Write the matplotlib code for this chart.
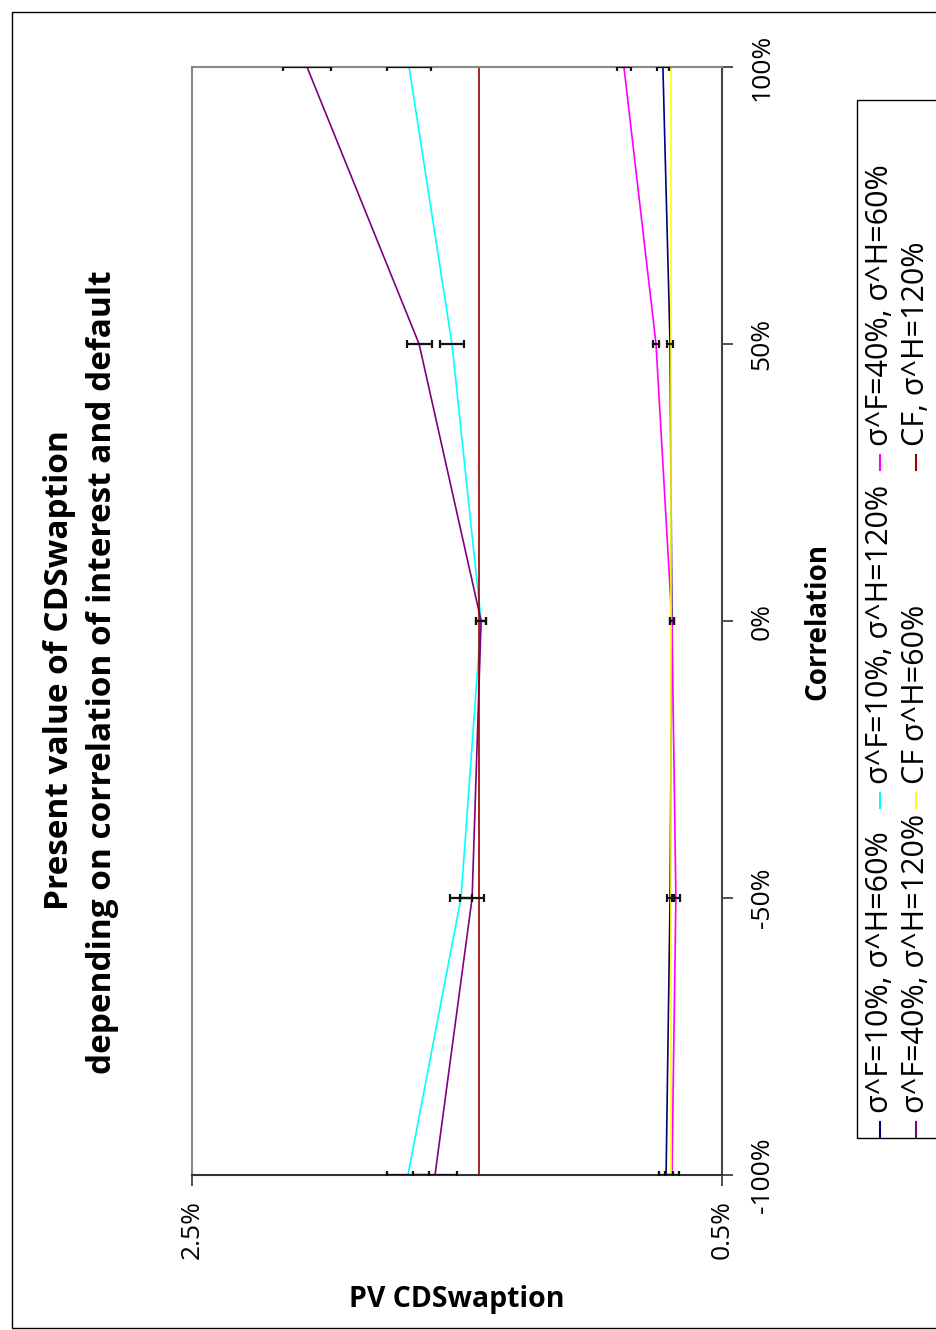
import matplotlib
matplotlib.use("Agg")
import matplotlib.pyplot as plt
from matplotlib.lines import Line2D
from matplotlib.patches import Rectangle
from matplotlib.ticker import FuncFormatter

plt.rcParams['font.family'] = ['Open Sans', 'DejaVu Sans']

# Correlation of interest and default
correlation = [-1.0, -0.5, 0.0, 0.5, 1.0]

# Present value of the CDS swaption (%) per volatility setting
pv_f10_h60 = [0.711, 0.696, 0.689, 0.696, 0.723]
pv_f10_h120 = [1.685, 1.485, 1.409, 1.519, 1.681]
pv_f40_h60 = [0.689, 0.674, 0.689, 0.749, 0.870]
pv_f40_h120 = [1.583, 1.443, 1.409, 1.643, 2.066]
pv_cf_h60 = [0.694] * 5
pv_cf_h120 = [1.417] * 5

# Monte Carlo error half-widths (%)
err_f10_h60 = [0.026, 0.013, 0.006, 0.011, 0.023]
err_f10_h120 = [0.079, 0.042, 0.019, 0.045, 0.083]
err_f40_h60 = [0.026, 0.015, 0.006, 0.013, 0.025]
err_f40_h120 = [0.083, 0.045, 0.019, 0.047, 0.092]

labels = ["σ^F=10%, σ^H=60%", "σ^F=10%, σ^H=120%", "σ^F=40%, σ^H=60%",
          "σ^F=40%, σ^H=120%", "CF σ^H=60%", "CF, σ^H=120%"]
colors = ["#000080", "#00FFFF", "#FF00FF", "#800080", "#FFFF00", "#990000"]

W, H = 936, 1330
fig = plt.figure(figsize=(W / 100, H / 100), dpi=100)

# figure frame
fig.add_artist(Rectangle((12 / W, 2 / H), 1.2, 1 - 14 / H, transform=fig.transFigure,
                         fill=False, edgecolor="black", linewidth=1.0))

x0, x1, y0, y1 = 192, 722, 67, 1175
ax = fig.add_axes([x0 / W, 1 - y1 / H, (x1 - x0) / W, (y1 - y0) / H])

series = [pv_f10_h60, pv_f10_h120, pv_f40_h60, pv_f40_h120, pv_cf_h60, pv_cf_h120]
errors = [err_f10_h60, err_f10_h120, err_f40_h60, err_f40_h120, None, None]
for vals, err, col in zip(series, errors, colors):
    ax.plot(vals, correlation, color=col, linewidth=1.2, zorder=2)
for vals, err in zip(series, errors):
    if err is not None:
        ax.errorbar(vals, correlation, xerr=err, fmt='none', ecolor='#111111',
                    elinewidth=1.6, capsize=3.2, capthick=1.6, zorder=3)

ax.set_xlim(2.5, 0.5)
ax.set_ylim(-1, 1)
ax.set_xticks([2.5, 0.5])
ax.set_yticks(correlation)
ax.xaxis.set_major_formatter(FuncFormatter(lambda v, p: f"{v:.1f}%"))
ax.yaxis.set_major_formatter(FuncFormatter(lambda v, p: f"{v * 100:.0f}%"))
ax.yaxis.tick_right()
ax.tick_params(axis='both', direction='out', length=8, width=1.2, color='#333333',
               labelsize=19)
ax.tick_params(axis='y', pad=12)
ax.tick_params(axis='x', pad=10)
for lab in ax.get_xticklabels():
    lab.set_rotation(90)
    lab.set_va('top')
    lab.set_ha('center')
for lab in ax.get_yticklabels():
    lab.set_rotation(90)
    lab.set_va('center')
    lab.set_ha('left')

ax.spines['left'].set_color('#888888')
ax.spines['top'].set_color('#888888')
ax.spines['bottom'].set_color('#333333')
ax.spines['right'].set_color('#444444')
for s in ax.spines.values():
    s.set_linewidth(1.5)

# titles and axis labels
fig.text(60 / W, 1 - 670 / H, "Present value of CDSwaption", rotation=90,
         fontsize=24, fontweight='bold', ha='center', va='center')
fig.text(103 / W, 1 - 672 / H, "depending on correlation of interest and default",
         rotation=90, fontsize=24, fontweight='bold', ha='center', va='center')
fig.text(818 / W, 1 - 621 / H, "Correlation", rotation=90, fontsize=20,
         fontweight='bold', ha='center', va='center')
fig.text(457 / W, 1 - 1300 / H, "PV CDSwaption", fontsize=20.5, fontweight='bold',
         ha='center', va='center')

# legend box with vertical entries
fig.add_artist(Rectangle((857 / W, 1 - 1138 / H), 0.2, (1138 - 100) / H,
                         transform=fig.transFigure, fill=False,
                         edgecolor='black', linewidth=1.0))
cols_x = [880, 916]
starts = [1137, 808, 470]
for i, (lab, col) in enumerate(zip(labels, colors)):
    cx = cols_x[i // 3]
    sy = starts[i % 3]
    fig.add_artist(Line2D([cx / W, cx / W], [1 - sy / H, 1 - (sy - 15) / H],
                          transform=fig.transFigure, color=col, linewidth=1.5))
    fig.text(cx / W, 1 - (sy - 24) / H, lab, rotation=90, fontsize=22,
             ha='center', va='bottom')

fig.savefig("out.png", dpi=100)
